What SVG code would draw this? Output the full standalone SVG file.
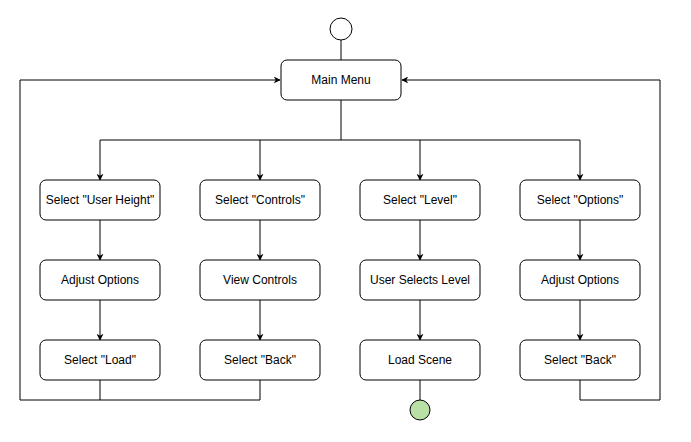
<svg xmlns="http://www.w3.org/2000/svg" width="691" height="442" viewBox="0 0 691 442">
<style>
.box{fill:#fff;stroke:#000;stroke-width:1}
.lbl{font-family:"Liberation Sans",Arial,sans-serif;font-size:12px;fill:#000;text-anchor:middle;dominant-baseline:central}
.c{fill:none;stroke:#000;stroke-width:1}
</style>
<defs>
<marker id="arr" viewBox="0 0 10 10" refX="9" refY="5" markerWidth="7" markerHeight="7" orient="auto" markerUnits="userSpaceOnUse">
<path d="M0,0 L10,5 L0,10 L3,5 Z" fill="#000"/>
</marker>
</defs>
<rect width="691" height="442" fill="#fff"/>
<g id="connectors">
<path class="c" d="M341,40 V60"/>
<path class="c" d="M341,100 V140"/>
<path class="c" d="M100,140 H580"/>
<path class="c" d="M100,140 V180" marker-end="url(#arr)"/>
<path class="c" d="M260,140 V180" marker-end="url(#arr)"/>
<path class="c" d="M420,140 V180" marker-end="url(#arr)"/>
<path class="c" d="M580,140 V180" marker-end="url(#arr)"/>
<path class="c" d="M100,220 V260" marker-end="url(#arr)"/>
<path class="c" d="M260,220 V260" marker-end="url(#arr)"/>
<path class="c" d="M420,220 V260" marker-end="url(#arr)"/>
<path class="c" d="M580,220 V260" marker-end="url(#arr)"/>
<path class="c" d="M100,300 V340" marker-end="url(#arr)"/>
<path class="c" d="M260,300 V340" marker-end="url(#arr)"/>
<path class="c" d="M420,300 V340" marker-end="url(#arr)"/>
<path class="c" d="M580,300 V340" marker-end="url(#arr)"/>
<path class="c" d="M100,380 V400 H20 V80 H280" marker-end="url(#arr)"/>
<path class="c" d="M260,380 V400 H100"/>
<path class="c" d="M580,380 V400 H660 V80 H402" marker-end="url(#arr)"/>
<path class="c" d="M420,380 V400"/>
</g>
<g id="start"><circle cx="341" cy="29" r="11" fill="#fff" stroke="#000"/></g>
<g id="main-menu"><rect class="box" x="281" y="60" width="120" height="40" rx="6"/><text class="lbl" x="341" y="80">Main Menu</text></g>
<g id="sel-user-height"><rect class="box" x="40" y="180" width="120" height="40" rx="6"/><text class="lbl" x="100" y="200">Select "User Height"</text></g>
<g id="sel-controls"><rect class="box" x="200" y="180" width="120" height="40" rx="6"/><text class="lbl" x="260" y="200">Select "Controls"</text></g>
<g id="sel-level"><rect class="box" x="360" y="180" width="120" height="40" rx="6"/><text class="lbl" x="420" y="200">Select "Level"</text></g>
<g id="sel-options"><rect class="box" x="520" y="180" width="120" height="40" rx="6"/><text class="lbl" x="580" y="200">Select "Options"</text></g>
<g id="adjust-options-1"><rect class="box" x="40" y="260" width="120" height="40" rx="6"/><text class="lbl" x="100" y="280">Adjust Options</text></g>
<g id="view-controls"><rect class="box" x="200" y="260" width="120" height="40" rx="6"/><text class="lbl" x="260" y="280">View Controls</text></g>
<g id="user-selects-level"><rect class="box" x="360" y="260" width="120" height="40" rx="6"/><text class="lbl" x="420" y="280">User Selects Level</text></g>
<g id="adjust-options-2"><rect class="box" x="520" y="260" width="120" height="40" rx="6"/><text class="lbl" x="580" y="280">Adjust Options</text></g>
<g id="sel-load"><rect class="box" x="40" y="340" width="120" height="40" rx="6"/><text class="lbl" x="100" y="360">Select "Load"</text></g>
<g id="sel-back-1"><rect class="box" x="200" y="340" width="120" height="40" rx="6"/><text class="lbl" x="260" y="360">Select "Back"</text></g>
<g id="load-scene"><rect class="box" x="360" y="340" width="120" height="40" rx="6"/><text class="lbl" x="420" y="360">Load Scene</text></g>
<g id="sel-back-2"><rect class="box" x="520" y="340" width="120" height="40" rx="6"/><text class="lbl" x="580" y="360">Select "Back"</text></g>
<g id="end"><circle cx="420" cy="410" r="10" fill="#b9e0a5" stroke="#000"/></g>
</svg>
